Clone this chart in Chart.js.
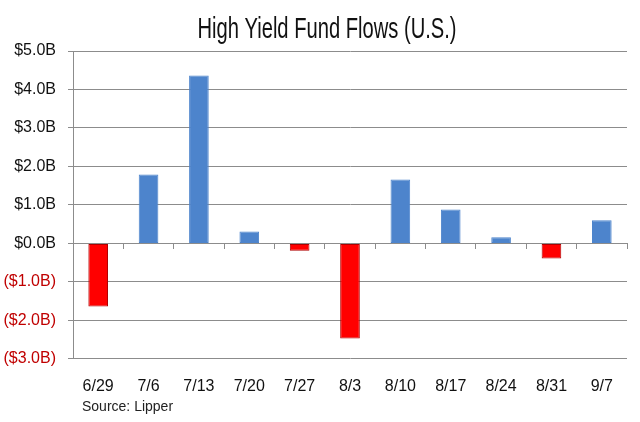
<!DOCTYPE html>
<html>
<head>
<meta charset="utf-8">
<script src="https://cdn.jsdelivr.net/npm/chart.js@4/dist/chart.umd.min.js"></script>
<style>
  html, body { margin: 0; padding: 0; background: #fff; }
  #wrap { width: 640px; height: 422px; }
</style>
</head>
<body>
<div id="wrap"><canvas id="flowChart"></canvas></div>
<script>
// Weekly high yield fund flows, $ billions
const weeks = ["6/29", "7/6", "7/13", "7/20", "7/27", "8/3", "8/10", "8/17", "8/24", "8/31", "9/7"];
const flows = [-1.64, 1.79, 4.36, 0.31, -0.19, -2.47, 1.66, 0.88, 0.16, -0.39, 0.60];
const chartTitle = "High Yield Fund Flows (U.S.)";
const sourceNote = "Source: Lipper";

const FONT = "'Liberation Sans', Arial, sans-serif";
const BLUE = "#4D84CC";
const RED = "#FF0000";
const GRID = "#8c8c8c";

// title in a condensed face + the "Source" line under the x labels
const textPlugin = {
  id: "extraText",
  afterDraw(chart) {
    const ctx = chart.ctx;
    ctx.save();
    ctx.fillStyle = "#111";
    ctx.font = "29px " + FONT;
    ctx.textAlign = "center";
    ctx.textBaseline = "alphabetic";
    ctx.translate(327, 38);
    ctx.scale(0.695, 1);
    ctx.fillText(chartTitle, 0, 0);
    ctx.restore();

    ctx.save();
    ctx.font = "14px " + FONT;
    ctx.fillStyle = "#222";
    ctx.textBaseline = "middle";
    ctx.fillText(sourceNote, chart.chartArea.left + 9, chart.height - 15);
    ctx.restore();
  },
};

const flowChart = new Chart(document.getElementById("flowChart"), {
  type: "bar",
  data: {
    labels: weeks,
    datasets: [
      {
        label: "Flows",
        data: flows,
        backgroundColor: flows.map((v) => (v < 0 ? RED : BLUE)),
        borderColor: flows.map((v) => (v < 0 ? "#B00000" : BLUE)),
        borderWidth: 1,
        borderSkipped: false,
        barPercentage: 0.39,
        categoryPercentage: 1,
      },
    ],
  },
  options: {
    responsive: true,
    maintainAspectRatio: false,
    animation: false,
    layout: { padding: { left: 0, right: 13, top: 51, bottom: 16 } },
    plugins: {
      legend: { display: false },
      tooltip: { enabled: false },
      title: { display: false },
    },
    scales: {
      x: {
        offset: true,
        grid: { display: false },
        border: { display: false },
        ticks: {
          color: "#111",
          font: { family: FONT, size: 16 },
          padding: 10,
          maxRotation: 0,
        },
      },
      // axis line through zero with tick marks between the weeks
      xZero: {
        type: "category",
        position: { y: 0 },
        offset: true,
        grid: {
          offset: true,
          drawOnChartArea: false,
          tickLength: 5,
          color: GRID,
        },
        border: { display: true, color: GRID, width: 1 },
        ticks: { display: false },
      },
      y: {
        min: -3,
        max: 5,
        grid: { color: GRID, lineWidth: 1, tickLength: 5 },
        border: { display: true, color: GRID },
        ticks: {
          stepSize: 1,
          padding: 12,
          font: { family: FONT, size: 16 },
          color: (ctx) => (ctx.tick.value < 0 ? "#C00000" : "#111"),
          callback: (v) => (v < 0 ? "($" + (-v).toFixed(1) + "B)" : "$" + v.toFixed(1) + "B"),
        },
        afterFit: (scale) => {
          scale.width = 73;
        },
      },
    },
  },
  plugins: [textPlugin],
});
</script>
</body>
</html>
